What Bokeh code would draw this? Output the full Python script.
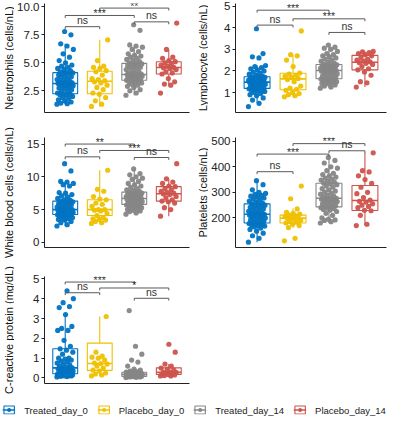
import math
from bokeh.plotting import figure
from bokeh.models import Range1d, FixedTicker, PrintfTickFormatter, ColumnDataSource, Legend, LegendItem
from bokeh.layouts import column, row
from bokeh.embed import file_html
from bokeh.resources import INLINE
from bokeh.core.properties import value

groups = ["Treated_day_0", "Placebo_day_0", "Treated_day_14", "Placebo_day_14"]
colors = ["#0073C2", "#EFC000", "#868686", "#CD534C"]
FONT = "Liberation Sans"

# ---------------- Neutrophils ----------------
neu_t0 = [1.3, 1.35, 1.4, 1.5, 1.6, 1.7, 1.8, 1.9, 2.0, 2.1, 2.15, 2.2, 2.25, 2.3, 2.4,
          2.5, 2.6, 2.7, 2.75, 2.8, 2.9, 2.95, 3.0, 3.05, 3.1, 3.1, 3.15, 3.15, 3.2, 3.2,
          3.25, 3.3, 3.35, 3.4, 3.5, 3.6, 3.7, 3.75, 3.8, 3.9, 4.0, 4.05, 4.1, 4.15, 4.2,
          4.3, 4.4, 4.5, 4.6, 4.7, 4.8, 5.0, 5.2, 5.5, 5.8, 6.2, 6.5, 6.7, 7.5, 7.8]
neu_p0 = [1.1, 1.3, 1.6, 1.9, 2.2, 2.3, 2.6, 2.8, 3.0, 3.2, 3.3, 3.4, 3.5, 3.6, 3.9, 4.2,
          4.3, 4.5, 4.6, 4.7, 5.2, 7.05]
neu_t14 = [2.1, 2.3, 2.5, 2.6, 2.8, 2.9, 3.0, 3.1, 3.2, 3.25, 3.3, 3.35, 3.4, 3.45, 3.5,
           3.55, 3.6, 3.65, 3.7, 3.75, 3.8, 3.82, 3.85, 3.88, 3.9, 3.92, 3.95, 3.95, 3.98, 4.0,
           4.05, 4.1, 4.2, 4.3, 4.4, 4.5, 4.55, 4.6, 4.7, 4.75, 4.8, 4.85, 4.9, 4.95, 5.0,
           5.1, 5.2, 5.3, 5.4, 5.5, 5.6, 5.7, 5.8, 6.0, 6.2, 6.4, 6.5, 6.6, 7.9, 8.4]
neu_p14 = [2.3, 3.0, 3.1, 3.3, 3.6, 4.0, 4.1, 4.2, 4.4, 4.5, 4.55, 4.6, 4.7, 4.8, 4.9, 5.0,
           5.1, 5.2, 5.4, 5.5, 6.2, 8.55]
neu_q1 = [2.24, 2.24, 3.44, 4.0]
neu_med = [3.15, 3.35, 3.95, 4.58]
neu_q3 = [4.12, 4.24, 4.95, 5.09]
neu_wlo = [1.3, 1.1, 2.1, 3.0]
neu_whi = [6.7, 7.05, 6.5, 6.2]
neu_br_from = [1, 1, 3, 2]
neu_br_to = [2, 3, 4, 4]
neu_br_y = [8.23, 9.23, 8.66, 9.89]
neu_br_lab = ["ns", "***", "ns", "**"]
neu_ticks = [2.5, 5.0, 7.5, 10.0]

# ---------------- Lymphocyte ----------------
lym_t0 = [0.35, 0.5, 0.65, 0.75, 0.85, 0.9, 0.95, 1.0, 1.05, 1.08, 1.1, 1.12, 1.15, 1.17, 1.19,
          1.22, 1.25, 1.28, 1.3, 1.33, 1.35, 1.38, 1.4, 1.42, 1.44, 1.45, 1.46, 1.47, 1.48, 1.48,
          1.5, 1.52, 1.54, 1.55, 1.57, 1.58, 1.6, 1.62, 1.63, 1.65, 1.67, 1.68, 1.7, 1.72, 1.73,
          1.76, 1.8, 1.85, 1.9, 1.95, 2.0, 2.05, 2.1, 2.15, 2.2, 2.25, 2.6, 2.65, 2.8, 3.95]
lym_p0 = [0.8, 0.85, 0.9, 0.95, 1.0, 1.1, 1.15, 1.2, 1.3, 1.5, 1.6, 1.65, 1.7, 1.75, 1.8,
          1.85, 1.9, 2.2, 2.5, 2.7, 2.75, 3.85]
lym_t14 = [1.2, 1.25, 1.3, 1.35, 1.4, 1.42, 1.45, 1.48, 1.5, 1.53, 1.55, 1.58, 1.6, 1.62, 1.64,
           1.67, 1.7, 1.73, 1.76, 1.8, 1.83, 1.86, 1.89, 1.92, 1.95, 1.97, 1.99, 2.0, 2.01, 2.02,
           2.04, 2.06, 2.08, 2.1, 2.12, 2.14, 2.16, 2.18, 2.2, 2.22, 2.24, 2.26, 2.28, 2.29, 2.3,
           2.35, 2.4, 2.45, 2.5, 2.55, 2.6, 2.65, 2.7, 2.75, 2.8, 2.9, 3.0, 3.05, 3.1, 3.2]
lym_p14 = [1.25, 1.45, 1.5, 1.8, 1.95, 2.05, 2.1, 2.2, 2.3, 2.35, 2.38, 2.42, 2.45, 2.5, 2.55,
           2.62, 2.7, 2.75, 2.8, 2.85, 2.88, 2.9]
lym_q1 = [1.19, 1.13, 1.64, 2.05]
lym_med = [1.48, 1.63, 2.02, 2.4]
lym_q3 = [1.73, 1.89, 2.3, 2.72]
lym_wlo = [0.5, 0.8, 1.2, 1.25]
lym_whi = [2.25, 2.75, 3.2, 2.9]
lym_br_from = [1, 1, 2, 3]
lym_br_to = [3, 2, 4, 4]
lym_br_y = [4.81, 4.12, 4.41, 3.78]
lym_br_lab = ["***", "ns", "***", "ns"]
lym_ticks = [1, 2, 3, 4, 5]

# ---------------- White blood cells ----------------
wbc_t0 = [2.5, 2.7, 3.0, 3.2, 3.4, 3.5, 3.6, 3.7, 3.8, 3.9, 4.0, 4.1, 4.15, 4.2, 4.25,
          4.3, 4.35, 4.4, 4.45, 4.5, 4.55, 4.6, 4.65, 4.7, 4.75, 4.8, 4.85, 4.9, 4.95, 5.0,
          5.05, 5.1, 5.2, 5.3, 5.4, 5.5, 5.6, 5.7, 5.8, 5.9, 6.0, 6.1, 6.2, 6.25, 6.3,
          6.4, 6.5, 6.7, 6.9, 7.1, 7.3, 7.5, 7.6, 8.6, 8.8, 9.0, 9.2, 9.3, 10.9, 12.0]
wbc_p0 = [2.9, 3.0, 3.2, 3.4, 3.5, 3.6, 3.8, 4.1, 4.4, 4.8, 4.9, 5.0, 5.0, 5.5, 5.8, 6.0,
          6.5, 6.6, 7.0, 7.8, 8.1, 11.0]
wbc_t14 = [4.3, 4.5, 4.7, 4.8, 4.9, 5.0, 5.1, 5.2, 5.3, 5.4, 5.5, 5.55, 5.6, 5.7, 5.8,
           5.85, 5.9, 5.95, 6.0, 6.1, 6.2, 6.25, 6.3, 6.4, 6.45, 6.5, 6.55, 6.6, 6.65, 6.7,
           6.75, 6.8, 6.85, 6.9, 7.0, 7.05, 7.1, 7.2, 7.3, 7.35, 7.4, 7.45, 7.5, 7.6, 7.67,
           7.8, 7.9, 8.0, 8.2, 8.4, 8.6, 8.8, 9.0, 9.3, 9.6, 9.8, 10.0, 10.3, 10.5, 11.2]
wbc_p14 = [4.0, 5.0, 5.3, 6.0, 6.2, 6.3, 6.5, 6.8, 7.0, 7.3, 7.4, 7.5, 7.6, 7.8, 8.0, 8.2,
           8.5, 8.6, 9.0, 9.2, 9.7, 12.0]
wbc_q1 = [4.25, 4.1, 5.8, 6.3]
wbc_med = [5.0, 5.0, 6.7, 7.43]
wbc_q3 = [6.3, 6.5, 7.67, 8.5]
wbc_wlo = [2.5, 2.9, 4.3, 4.0]
wbc_whi = [9.3, 11.0, 11.2, 9.7]
wbc_br_from = [1, 2, 1, 3]
wbc_br_to = [3, 4, 2, 4]
wbc_br_y = [15.0, 14.02, 13.05, 12.95]
wbc_br_lab = ["**", "***", "ns", "ns"]
wbc_ticks = [0, 5, 10, 15]

# ---------------- Platelets ----------------
plt_t0 = [105, 120, 130, 140, 148, 155, 160, 165, 168, 170, 172, 175, 177, 178, 180,
          183, 186, 189, 192, 195, 198, 200, 203, 205, 207, 209, 210, 211, 212, 214,
          216, 218, 220, 223, 226, 229, 232, 235, 238, 241, 244, 247, 250, 253, 255,
          258, 262, 266, 270, 274, 278, 282, 285, 288, 292, 296, 300, 310, 330, 346]
plt_p0 = [110, 120, 162, 170, 175, 180, 183, 186, 190, 195, 198, 200, 202, 205, 208, 211,
          215, 218, 222, 235, 275, 325]
plt_t14 = [180, 185, 190, 192, 195, 200, 210, 218, 225, 230, 233, 236, 238, 240, 243,
           246, 249, 252, 255, 258, 261, 264, 266, 268, 270, 272, 273, 274, 276, 277,
           279, 282, 285, 289, 293, 297, 301, 305, 310, 315, 320, 325, 330, 333, 336,
           340, 344, 348, 352, 356, 360, 365, 370, 375, 385, 395, 400, 415, 425, 437]
plt_p14 = [170, 175, 210, 228, 230, 240, 245, 250, 255, 262, 265, 270, 280, 295, 300, 320,
           335, 350, 365, 380, 385, 455]
plt_q1 = [180, 180, 243, 229]
plt_med = [214, 199, 277, 268]
plt_q3 = [255, 211, 336, 327]
plt_wlo = [105, 160, 180, 170]
plt_whi = [346, 238, 437, 455]
plt_br_from = [2, 1, 3, 1]
plt_br_to = [4, 3, 4, 2]
plt_br_y = [491, 450, 463, 381]
plt_br_lab = ["***", "***", "ns", "ns"]
plt_ticks = [200, 300, 400, 500]

# ---------------- C-reactive protein ----------------
crp_t0 = [0.05, 0.07, 0.08, 0.1, 0.1, 0.12, 0.13, 0.15, 0.15, 0.17, 0.18, 0.19, 0.2, 0.2, 0.21,
          0.23, 0.25, 0.27, 0.28, 0.3, 0.32, 0.35, 0.37, 0.4, 0.42, 0.44, 0.46, 0.48, 0.5, 0.51,
          0.55, 0.6, 0.65, 0.7, 0.75, 0.8, 0.85, 0.9, 0.95, 1.0, 1.0, 1.2, 1.3, 1.4, 1.47,
          1.6, 1.9, 2.4, 2.4, 2.5, 2.6, 3.2, 3.55, 3.6, 3.8, 4.0, 4.4]
crp_p0 = [0.1, 0.15, 0.2, 0.25, 0.35, 0.4, 0.5, 0.6, 0.7, 0.73, 0.75, 0.9, 1.0, 1.05, 1.1,
          1.3, 3.1]
crp_t14 = [0.02, 0.03, 0.05, 0.05, 0.06, 0.07, 0.08, 0.08, 0.09, 0.1, 0.1, 0.11, 0.12, 0.12,
           0.13, 0.14, 0.15, 0.15, 0.16, 0.17, 0.18, 0.18, 0.19, 0.2, 0.2, 0.21, 0.22, 0.23,
           0.24, 0.25, 0.26, 0.27, 0.28, 0.29, 0.3, 0.32, 0.35, 0.4, 0.45, 0.6, 0.8, 0.9, 1.2,
           1.6, 3.4]
crp_p14 = [0.1, 0.1, 0.12, 0.15, 0.18, 0.2, 0.2, 0.25, 0.28, 0.3, 0.3, 0.4, 0.45, 0.5, 0.6,
           0.7, 1.3, 1.7]
crp_q1 = [0.21, 0.38, 0.08, 0.18]
crp_med = [0.51, 0.73, 0.18, 0.29]
crp_q3 = [1.47, 1.76, 0.29, 0.51]
crp_wlo = [0.05, 0.1, 0.02, 0.1]
crp_whi = [3.2, 3.1, 0.45, 0.7]
crp_br_from = [1, 2, 1, 3]
crp_br_to = [3, 4, 2, 4]
crp_br_y = [4.84, 4.54, 4.3, 4.02]
crp_br_lab = ["***", "*", "ns", "ns"]
crp_ticks = [0, 1, 2, 3, 4, 5]

y_titles_left = ["Neutrophils (cells/nL)", "White blood cells (cells/nL)",
                 "C-reactive protein (mg/dL)"]
y_titles_right = ["Lymphocyte (cells/nL)", "Platelets (cells/nL)"]

# layout constants (pixels)
STRIP_W = 14
COL_W = 180
ROW_H = [132, 137, 126]
BORDER_T = [3, 5, 7]
BORDER_B = [20, 22, 12]
LEG_H = 29


def jitter(n, half=0.24):
    return [((i * 0.6180339887) % 1.0 - 0.5) * 2 * half for i in range(n)]


def panel(series, q1, med, q3, wlo, whi, yr, ticks, fmt,
          bfrom, bto, by, blab, ri, bl, br):
    h = ROW_H[ri]
    p = figure(width=COL_W, height=h, toolbar_location=None, output_backend="svg",
               x_range=Range1d(0.4, 4.6), y_range=Range1d(*yr),
               min_border_left=bl, min_border_right=br, min_border_top=BORDER_T[ri],
               min_border_bottom=BORDER_B[ri])
    p.grid.visible = False
    p.outline_line_color = None
    xs = [1, 2, 3, 4]
    bw = 0.36
    p.quad(left=[x - bw for x in xs], right=[x + bw for x in xs], bottom=q1, top=q3,
           fill_color="white", line_color=colors, line_width=1.1)
    p.segment(x0=xs, y0=q3, x1=xs, y1=whi, line_color=colors, line_width=1.1)
    p.segment(x0=xs, y0=q1, x1=xs, y1=wlo, line_color=colors, line_width=1.1)
    p.segment(x0=[x - bw for x in xs], y0=med, x1=[x + bw for x in xs], y1=med,
              line_color=colors, line_width=1.6)
    for gi, vals in enumerate(series):
        jx = jitter(len(vals))
        p.scatter(x=[gi + 1 + j for j in jx], y=vals, size=5.2,
                  fill_color=colors[gi], line_color=None, fill_alpha=0.95)
    tip = 0.022 * (yr[1] - yr[0])
    bx = [[a, a, b, b] for a, b in zip(bfrom, bto)]
    byy = [[y - tip, y, y, y - tip] for y in by]
    p.multi_line(xs=bx, ys=byy, line_color="#5a5a5a", line_width=1)
    mids = [(a + b) / 2 for a, b in zip(bfrom, bto)]
    offs = [-0.5 if lab == "ns" else 3.5 for lab in blab]
    src = ColumnDataSource(dict(x=mids, y=by, t=blab, o=offs))
    p.text(x="x", y="y", text="t", y_offset="o", source=src, text_align="center",
           text_baseline="bottom", text_font_size="10.5px", text_color="#333333",
           text_font=value(FONT))
    p.xaxis.ticker = FixedTicker(ticks=[])
    p.xaxis.major_tick_out = 0
    p.xaxis.major_label_standoff = 0
    p.xaxis.axis_line_color = "#222222"
    p.yaxis.ticker = FixedTicker(ticks=ticks)
    if fmt:
        p.yaxis.formatter = PrintfTickFormatter(format=fmt)
    p.yaxis.major_label_text_font = FONT
    p.yaxis.major_label_text_font_size = "11.5px"
    p.yaxis.major_label_text_color = "#222222"
    p.yaxis.major_label_standoff = 2
    p.yaxis.major_tick_out = 3
    p.yaxis.major_tick_in = 0
    p.yaxis.minor_tick_out = 0
    p.yaxis.minor_tick_in = 0
    p.yaxis.axis_line_color = "#222222"
    p.yaxis.major_tick_line_color = "#222222"
    return p


def title_strip(titles, nrows):
    total = sum(ROW_H[:nrows])
    s = figure(width=STRIP_W, height=total, toolbar_location=None, output_backend="svg",
               x_range=Range1d(0, STRIP_W), y_range=Range1d(total, 0), min_border=0)
    s.axis.visible = False
    s.grid.visible = False
    s.outline_line_color = None
    centers = []
    top = 0
    for ri in range(nrows):
        frame_h = ROW_H[ri] - BORDER_T[ri] - BORDER_B[ri]
        centers.append(top + BORDER_T[ri] + frame_h / 2)
        top += ROW_H[ri]
    s.text(x=[STRIP_W / 2 + 1] * nrows, y=centers, text=titles, angle=math.pi / 2,
           text_align="center", text_baseline="middle", text_font=value(FONT),
           text_font_size="11px", text_color="#111111")
    return s


f1 = panel([neu_t0, neu_p0, neu_t14, neu_p14], neu_q1, neu_med, neu_q3, neu_wlo, neu_whi,
           (0.56, 10.3), neu_ticks, "%.1f", neu_br_from, neu_br_to, neu_br_y, neu_br_lab,
           0, 27, 5)
f2 = panel([lym_t0, lym_p0, lym_t14, lym_p14], lym_q1, lym_med, lym_q3, lym_wlo, lym_whi,
           (0.075, 5.12), lym_ticks, None, lym_br_from, lym_br_to, lym_br_y, lym_br_lab,
           0, 16, 2)
f3 = panel([wbc_t0, wbc_p0, wbc_t14, wbc_p14], wbc_q1, wbc_med, wbc_q3, wbc_wlo, wbc_whi,
           (-0.78, 16.0), wbc_ticks, None, wbc_br_from, wbc_br_to, wbc_br_y, wbc_br_lab,
           1, 18, 5)
f4 = panel([plt_t0, plt_p0, plt_t14, plt_p14], plt_q1, plt_med, plt_q3, plt_wlo, plt_whi,
           (84, 515), plt_ticks, None, plt_br_from, plt_br_to, plt_br_y, plt_br_lab,
           1, 27, 2)
f5 = panel([crp_t0, crp_p0, crp_t14, crp_p14], crp_q1, crp_med, crp_q3, crp_wlo, crp_whi,
           (-0.28, 5.12), crp_ticks, None, crp_br_from, crp_br_to, crp_br_y, crp_br_lab,
           2, 11, 5)

sL = title_strip(y_titles_left, 3)
sR = title_strip(y_titles_right, 2)

# legend strip
lf = figure(width=2 * (STRIP_W + COL_W), height=LEG_H, toolbar_location=None,
            output_backend="svg", x_range=Range1d(0, 1), y_range=Range1d(0, 1), min_border=0)
lf.axis.visible = False
lf.grid.visible = False
lf.outline_line_color = None
items = []
for gi, g in enumerate(groups):
    src = ColumnDataSource(dict(x=[-5.0], y=[-5.0]))
    r1 = lf.rect(x="x", y="y", width=0.01, height=0.01, source=src, fill_color="white",
                 line_color=colors[gi], line_width=1.1)
    r2 = lf.segment(x0="x", y0="y", x1="x", y1="y", source=src, line_color=colors[gi],
                    line_width=1.4)
    r3 = lf.scatter(x="x", y="y", source=src, size=5, fill_color=colors[gi],
                    line_color=None)
    items.append(LegendItem(label=g, renderers=[r1, r2, r3]))
leg = Legend(items=items, orientation="horizontal", location="center",
             border_line_color=None, background_fill_alpha=0, glyph_width=13,
             glyph_height=10, label_standoff=9, spacing=9, padding=0, margin=0,
             label_text_font=FONT, label_text_font_size="9.5px", label_height=10,
             label_text_color="#222222")
lf.add_layout(leg, "center")

layout = column(row(sL, column(f1, f3, f5), sR, column(f2, f4)), lf)
open("out.html", "w").write(file_html(layout, INLINE))
